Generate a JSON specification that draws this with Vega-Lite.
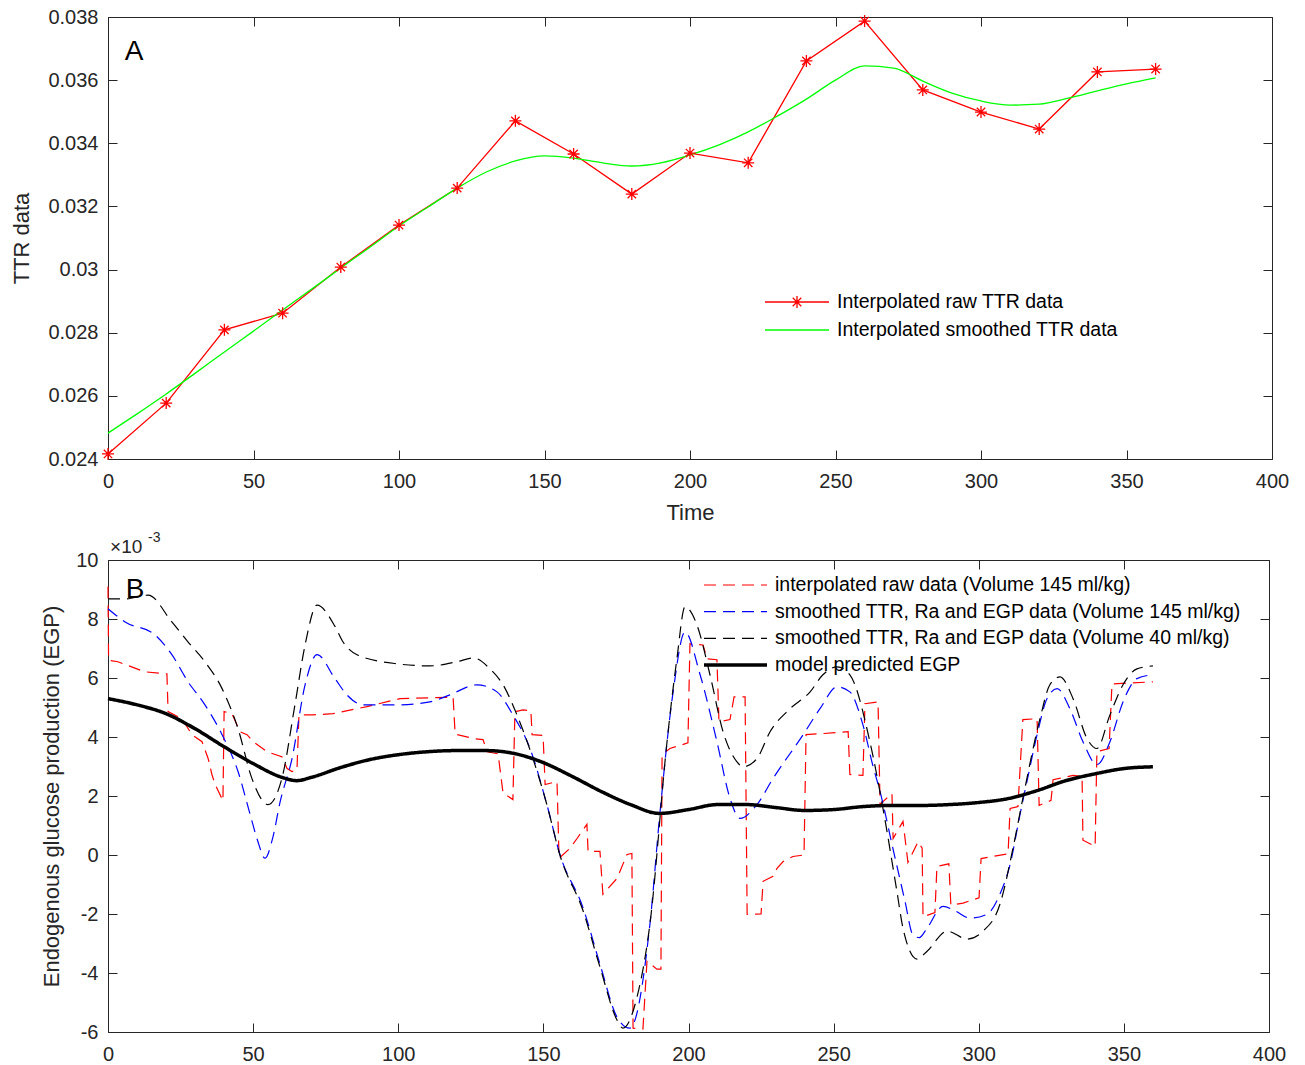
{
  "$schema": "https://vega.github.io/schema/vega-lite/v6.json",
  "padding": {"left": 10, "top": 6, "right": 5, "bottom": 5},
  "spacing": 6,
  "resolve": {"scale": {"color": "independent", "strokeDash": "independent"}, "legend": {"color": "independent", "strokeDash": "independent"}},
  "config": {
    "font": "Liberation Sans",
    "view": {"stroke": "#262626", "strokeWidth": 1},
    "axis": {"grid": false, "domain": false, "tickColor": "#262626", "labelColor": "#262626", "titleColor": "#262626", "labelFontSize": 20, "titleFontSize": 22, "titleFontWeight": "normal", "tickSize": -9, "labelPadding": 19, "labelFlush": false, "labelOverlap": false},
    "axisX": {"labelPadding": 21},
    "legend": {"labelFontSize": 19.5, "labelColor": "#000000", "labelLimit": 700}
  },
  "datasets": {
    "ttr": [
      {"s": "raw", "t": 0, "v": 0.02416}, {"s": "raw", "t": 20, "v": 0.02577}, {"s": "raw", "t": 40, "v": 0.02809}, {"s": "raw", "t": 60, "v": 0.02862}, {"s": "raw", "t": 80, "v": 0.03008}, {"s": "raw", "t": 100, "v": 0.03141}, {"s": "raw", "t": 120, "v": 0.03258}, {"s": "raw", "t": 140, "v": 0.03471}, {"s": "raw", "t": 160, "v": 0.03366}, {"s": "raw", "t": 180, "v": 0.03239}, {"s": "raw", "t": 200, "v": 0.03369}, {"s": "raw", "t": 220, "v": 0.03338}, {"s": "raw", "t": 240, "v": 0.03661}, {"s": "raw", "t": 260, "v": 0.03787}, {"s": "raw", "t": 280, "v": 0.03569}, {"s": "raw", "t": 300, "v": 0.03499}, {"s": "raw", "t": 320, "v": 0.03445}, {"s": "raw", "t": 340, "v": 0.03626}, {"s": "raw", "t": 360, "v": 0.03635},
      {"s": "smooth", "t": 0, "v": 0.02482}, {"s": "smooth", "t": 10, "v": 0.02543}, {"s": "smooth", "t": 20, "v": 0.02606}, {"s": "smooth", "t": 30, "v": 0.02672}, {"s": "smooth", "t": 40, "v": 0.02739}, {"s": "smooth", "t": 50, "v": 0.02805}, {"s": "smooth", "t": 60, "v": 0.02872}, {"s": "smooth", "t": 70, "v": 0.02938}, {"s": "smooth", "t": 80, "v": 0.03005}, {"s": "smooth", "t": 90, "v": 0.03071}, {"s": "smooth", "t": 100, "v": 0.03138}, {"s": "smooth", "t": 110, "v": 0.03198}, {"s": "smooth", "t": 120, "v": 0.03258}, {"s": "smooth", "t": 130, "v": 0.03309}, {"s": "smooth", "t": 140, "v": 0.03344}, {"s": "smooth", "t": 150, "v": 0.0336}, {"s": "smooth", "t": 160, "v": 0.03353}, {"s": "smooth", "t": 170, "v": 0.03338}, {"s": "smooth", "t": 180, "v": 0.03328}, {"s": "smooth", "t": 190, "v": 0.03338}, {"s": "smooth", "t": 200, "v": 0.03363}, {"s": "smooth", "t": 210, "v": 0.03395}, {"s": "smooth", "t": 220, "v": 0.03436}, {"s": "smooth", "t": 230, "v": 0.03486}, {"s": "smooth", "t": 240, "v": 0.0354}, {"s": "smooth", "t": 250, "v": 0.036}, {"s": "smooth", "t": 260, "v": 0.03645}, {"s": "smooth", "t": 270, "v": 0.03638}, {"s": "smooth", "t": 280, "v": 0.03597}, {"s": "smooth", "t": 290, "v": 0.03559}, {"s": "smooth", "t": 300, "v": 0.03534}, {"s": "smooth", "t": 310, "v": 0.03521}, {"s": "smooth", "t": 320, "v": 0.03524}, {"s": "smooth", "t": 330, "v": 0.03543}, {"s": "smooth", "t": 340, "v": 0.03566}, {"s": "smooth", "t": 350, "v": 0.03588}, {"s": "smooth", "t": 360, "v": 0.03607}
    ],
    "egp": [
      {"s": "raw", "t": 0, "v": 9.1}, {"s": "raw", "t": 0.2, "v": 6.6}, {"s": "raw", "t": 3.4, "v": 6.55}, {"s": "raw", "t": 12.7, "v": 6.21}, {"s": "raw", "t": 20.3, "v": 6.14}, {"s": "raw", "t": 20.7, "v": 4.86}, {"s": "raw", "t": 25.5, "v": 4.62}, {"s": "raw", "t": 28.9, "v": 4.08}, {"s": "raw", "t": 32.4, "v": 3.84}, {"s": "raw", "t": 34.5, "v": 3.27}, {"s": "raw", "t": 35.8, "v": 2.73}, {"s": "raw", "t": 36.9, "v": 2.39}, {"s": "raw", "t": 39.6, "v": 1.84}, {"s": "raw", "t": 40, "v": 4.86}, {"s": "raw", "t": 42.7, "v": 4.79}, {"s": "raw", "t": 45.5, "v": 4.18}, {"s": "raw", "t": 47.9, "v": 4.08}, {"s": "raw", "t": 50, "v": 3.84}, {"s": "raw", "t": 54.8, "v": 3.5}, {"s": "raw", "t": 59.9, "v": 3.33}, {"s": "raw", "t": 61.7, "v": 2.93}, {"s": "raw", "t": 63.4, "v": 2.83}, {"s": "raw", "t": 65.1, "v": 2.88}, {"s": "raw", "t": 65.8, "v": 4.75}, {"s": "raw", "t": 70.6, "v": 4.75}, {"s": "raw", "t": 77.5, "v": 4.79}, {"s": "raw", "t": 89.2, "v": 5.03}, {"s": "raw", "t": 100.6, "v": 5.3}, {"s": "raw", "t": 118.9, "v": 5.35}, {"s": "raw", "t": 119.6, "v": 4.1}, {"s": "raw", "t": 125.8, "v": 3.95}, {"s": "raw", "t": 129.2, "v": 3.91}, {"s": "raw", "t": 130.6, "v": 3.5}, {"s": "raw", "t": 134.4, "v": 3.43}, {"s": "raw", "t": 136.1, "v": 2.1}, {"s": "raw", "t": 139.5, "v": 1.88}, {"s": "raw", "t": 140.2, "v": 4.86}, {"s": "raw", "t": 143, "v": 4.92}, {"s": "raw", "t": 145.7, "v": 4.89}, {"s": "raw", "t": 146.1, "v": 4.08}, {"s": "raw", "t": 149.9, "v": 4.05}, {"s": "raw", "t": 150.6, "v": 2.39}, {"s": "raw", "t": 154.7, "v": 2.49}, {"s": "raw", "t": 155.4, "v": -0.11}, {"s": "raw", "t": 159.2, "v": 0.23}, {"s": "raw", "t": 161.6, "v": 0.56}, {"s": "raw", "t": 165, "v": 1.04}, {"s": "raw", "t": 165.4, "v": 0.12}, {"s": "raw", "t": 169.5, "v": 0.12}, {"s": "raw", "t": 170.5, "v": -1.33}, {"s": "raw", "t": 175.4, "v": -0.79}, {"s": "raw", "t": 178.8, "v": 0.02}, {"s": "raw", "t": 180.5, "v": 0.05}, {"s": "raw", "t": 180.9, "v": -5.87}, {"s": "raw", "t": 184.3, "v": -5.9}, {"s": "raw", "t": 185.7, "v": -3.6}, {"s": "raw", "t": 189.1, "v": -3.87}, {"s": "raw", "t": 190.5, "v": -3.87}, {"s": "raw", "t": 190.9, "v": 3.4}, {"s": "raw", "t": 193.6, "v": 3.61}, {"s": "raw", "t": 199.8, "v": 3.8}, {"s": "raw", "t": 200.5, "v": 7.16}, {"s": "raw", "t": 205, "v": 7.12}, {"s": "raw", "t": 206.4, "v": 6.65}, {"s": "raw", "t": 209.8, "v": 6.62}, {"s": "raw", "t": 210.5, "v": 4.52}, {"s": "raw", "t": 214.3, "v": 4.59}, {"s": "raw", "t": 215.7, "v": 5.36}, {"s": "raw", "t": 219.5, "v": 5.36}, {"s": "raw", "t": 220.2, "v": -2.01}, {"s": "raw", "t": 225, "v": -2.0}, {"s": "raw", "t": 225.7, "v": -0.89}, {"s": "raw", "t": 229.1, "v": -0.72}, {"s": "raw", "t": 230.5, "v": -0.45}, {"s": "raw", "t": 232.6, "v": -0.22}, {"s": "raw", "t": 236, "v": -0.05}, {"s": "raw", "t": 239.8, "v": 0}, {"s": "raw", "t": 240.5, "v": 4.08}, {"s": "raw", "t": 245.3, "v": 4.11}, {"s": "raw", "t": 255, "v": 4.18}, {"s": "raw", "t": 255.6, "v": 2.73}, {"s": "raw", "t": 260.1, "v": 2.7}, {"s": "raw", "t": 260.8, "v": 5.13}, {"s": "raw", "t": 265.3, "v": 5.19}, {"s": "raw", "t": 266, "v": 1.71}, {"s": "raw", "t": 267, "v": 1.81}, {"s": "raw", "t": 270.1, "v": 2.08}, {"s": "raw", "t": 270.5, "v": 0.56}, {"s": "raw", "t": 273.9, "v": 1.14}, {"s": "raw", "t": 275.6, "v": -0.25}, {"s": "raw", "t": 279.1, "v": 0.45}, {"s": "raw", "t": 280.5, "v": 0.23}, {"s": "raw", "t": 280.8, "v": -2.1}, {"s": "raw", "t": 284.9, "v": -1.95}, {"s": "raw", "t": 285.6, "v": -0.39}, {"s": "raw", "t": 289.7, "v": -0.3}, {"s": "raw", "t": 290.4, "v": -1.7}, {"s": "raw", "t": 294.6, "v": -1.63}, {"s": "raw", "t": 300.1, "v": -1.45}, {"s": "raw", "t": 300.8, "v": -0.12}, {"s": "raw", "t": 310.1, "v": 0.04}, {"s": "raw", "t": 310.8, "v": 1.58}, {"s": "raw", "t": 313.5, "v": 1.64}, {"s": "raw", "t": 315.2, "v": 4.59}, {"s": "raw", "t": 320.1, "v": 4.62}, {"s": "raw", "t": 320.8, "v": 1.68}, {"s": "raw", "t": 324.9, "v": 1.85}, {"s": "raw", "t": 325.6, "v": 2.55}, {"s": "raw", "t": 332.5, "v": 2.7}, {"s": "raw", "t": 335.6, "v": 2.66}, {"s": "raw", "t": 335.9, "v": 0.5}, {"s": "raw", "t": 340.1, "v": 0.29}, {"s": "raw", "t": 340.7, "v": 3.5}, {"s": "raw", "t": 344.9, "v": 3.61}, {"s": "raw", "t": 345.9, "v": 5.8}, {"s": "raw", "t": 360, "v": 5.87},
      {"s": "s145", "t": 0, "v": 8.35}, {"s": "s145", "t": 5.9, "v": 7.9}, {"s": "s145", "t": 16.2, "v": 7.46}, {"s": "s145", "t": 22, "v": 6.79}, {"s": "s145", "t": 27.6, "v": 5.87}, {"s": "s145", "t": 33.4, "v": 5.09}, {"s": "s145", "t": 39.3, "v": 4.08}, {"s": "s145", "t": 44.8, "v": 2.83}, {"s": "s145", "t": 48.9, "v": 1.4}, {"s": "s145", "t": 51.5, "v": 0.5}, {"s": "s145", "t": 54.1, "v": -0.11}, {"s": "s145", "t": 56.8, "v": 0.6}, {"s": "s145", "t": 59.3, "v": 1.8}, {"s": "s145", "t": 63.4, "v": 3.27}, {"s": "s145", "t": 67.9, "v": 5.77}, {"s": "s145", "t": 72, "v": 6.79}, {"s": "s145", "t": 78.2, "v": 5.98}, {"s": "s145", "t": 82.3, "v": 5.43}, {"s": "s145", "t": 87.9, "v": 5.09}, {"s": "s145", "t": 99.6, "v": 5.09}, {"s": "s145", "t": 110.9, "v": 5.19}, {"s": "s145", "t": 117.8, "v": 5.43}, {"s": "s145", "t": 127.1, "v": 5.77}, {"s": "s145", "t": 134, "v": 5.53}, {"s": "s145", "t": 139.5, "v": 4.75}, {"s": "s145", "t": 145.4, "v": 3.61}, {"s": "s145", "t": 151.2, "v": 1.71}, {"s": "s145", "t": 155.7, "v": 0.02}, {"s": "s145", "t": 163.7, "v": -1.8}, {"s": "s145", "t": 169.5, "v": -3.7}, {"s": "s145", "t": 175.4, "v": -5.5}, {"s": "s145", "t": 179.8, "v": -5.87}, {"s": "s145", "t": 186.7, "v": -2.35}, {"s": "s145", "t": 190.2, "v": 1.47}, {"s": "s145", "t": 194.7, "v": 5.53}, {"s": "s145", "t": 198.8, "v": 7.56}, {"s": "s145", "t": 204, "v": 6.11}, {"s": "s145", "t": 209.8, "v": 3.84}, {"s": "s145", "t": 214.3, "v": 1.92}, {"s": "s145", "t": 217.7, "v": 1.24}, {"s": "s145", "t": 223.6, "v": 1.71}, {"s": "s145", "t": 229.1, "v": 2.59}, {"s": "s145", "t": 239.5, "v": 4.08}, {"s": "s145", "t": 245.3, "v": 4.96}, {"s": "s145", "t": 251.2, "v": 5.7}, {"s": "s145", "t": 255.6, "v": 5.53}, {"s": "s145", "t": 260.1, "v": 4.41}, {"s": "s145", "t": 263.6, "v": 3.0}, {"s": "s145", "t": 266, "v": 2.15}, {"s": "s145", "t": 270.5, "v": 0.19}, {"s": "s145", "t": 274.6, "v": -1.57}, {"s": "s145", "t": 277.3, "v": -2.7}, {"s": "s145", "t": 279.5, "v": -2.8}, {"s": "s145", "t": 282.2, "v": -2.48}, {"s": "s145", "t": 287.7, "v": -1.74}, {"s": "s145", "t": 292, "v": -1.9}, {"s": "s145", "t": 297, "v": -2.14}, {"s": "s145", "t": 302.8, "v": -2.01}, {"s": "s145", "t": 307.3, "v": -1.33}, {"s": "s145", "t": 310.8, "v": -0.32}, {"s": "s145", "t": 314.2, "v": 1.37}, {"s": "s145", "t": 316.6, "v": 2.49}, {"s": "s145", "t": 320.1, "v": 4.08}, {"s": "s145", "t": 323.5, "v": 5.3}, {"s": "s145", "t": 327, "v": 5.64}, {"s": "s145", "t": 331.4, "v": 4.96}, {"s": "s145", "t": 335.9, "v": 3.84}, {"s": "s145", "t": 340.7, "v": 3.06}, {"s": "s145", "t": 345.2, "v": 3.84}, {"s": "s145", "t": 349.7, "v": 5.19}, {"s": "s145", "t": 354.5, "v": 5.98}, {"s": "s145", "t": 360, "v": 6.11},
      {"s": "s40", "t": 0, "v": 8.68}, {"s": "s40", "t": 5.9, "v": 8.68}, {"s": "s40", "t": 13.8, "v": 8.81}, {"s": "s40", "t": 22, "v": 7.9}, {"s": "s40", "t": 27.6, "v": 7.22}, {"s": "s40", "t": 33.4, "v": 6.55}, {"s": "s40", "t": 39.3, "v": 5.64}, {"s": "s40", "t": 44.8, "v": 4.28}, {"s": "s40", "t": 49.6, "v": 2.59}, {"s": "s40", "t": 55.1, "v": 1.71}, {"s": "s40", "t": 59.9, "v": 2.59}, {"s": "s40", "t": 64.4, "v": 5.09}, {"s": "s40", "t": 67.9, "v": 7.12}, {"s": "s40", "t": 72, "v": 8.47}, {"s": "s40", "t": 78.2, "v": 7.75}, {"s": "s40", "t": 81, "v": 7.22}, {"s": "s40", "t": 85.8, "v": 6.79}, {"s": "s40", "t": 99.6, "v": 6.48}, {"s": "s40", "t": 110.9, "v": 6.41}, {"s": "s40", "t": 120.2, "v": 6.55}, {"s": "s40", "t": 125.8, "v": 6.68}, {"s": "s40", "t": 131.6, "v": 6.31}, {"s": "s40", "t": 136.1, "v": 5.77}, {"s": "s40", "t": 140.9, "v": 4.75}, {"s": "s40", "t": 146.4, "v": 3.27}, {"s": "s40", "t": 151.2, "v": 1.71}, {"s": "s40", "t": 155.7, "v": 0}, {"s": "s40", "t": 163.7, "v": -1.9}, {"s": "s40", "t": 169.5, "v": -3.8}, {"s": "s40", "t": 175.4, "v": -5.6}, {"s": "s40", "t": 177.4, "v": -5.87}, {"s": "s40", "t": 182.3, "v": -4.8}, {"s": "s40", "t": 186.7, "v": -2.35}, {"s": "s40", "t": 192.6, "v": 3.84}, {"s": "s40", "t": 196, "v": 6.65}, {"s": "s40", "t": 198.8, "v": 8.41}, {"s": "s40", "t": 202.9, "v": 7.8}, {"s": "s40", "t": 207.4, "v": 6.11}, {"s": "s40", "t": 211.9, "v": 4.18}, {"s": "s40", "t": 216.7, "v": 3.16}, {"s": "s40", "t": 218.8, "v": 2.99}, {"s": "s40", "t": 223.6, "v": 3.27}, {"s": "s40", "t": 228.1, "v": 4.18}, {"s": "s40", "t": 235, "v": 4.96}, {"s": "s40", "t": 241.9, "v": 5.53}, {"s": "s40", "t": 246.3, "v": 6.11}, {"s": "s40", "t": 251.2, "v": 6.38}, {"s": "s40", "t": 255.6, "v": 6.11}, {"s": "s40", "t": 262.5, "v": 3.84}, {"s": "s40", "t": 267, "v": 1.58}, {"s": "s40", "t": 271.8, "v": -1.23}, {"s": "s40", "t": 273.9, "v": -2.48}, {"s": "s40", "t": 278.7, "v": -3.53}, {"s": "s40", "t": 282.2, "v": -3.26}, {"s": "s40", "t": 289.1, "v": -2.58}, {"s": "s40", "t": 296, "v": -2.85}, {"s": "s40", "t": 301.5, "v": -2.58}, {"s": "s40", "t": 307.3, "v": -1.67}, {"s": "s40", "t": 311.8, "v": 0.23}, {"s": "s40", "t": 315.2, "v": 1.92}, {"s": "s40", "t": 321.1, "v": 4.62}, {"s": "s40", "t": 324.5, "v": 5.77}, {"s": "s40", "t": 328, "v": 6.04}, {"s": "s40", "t": 332.5, "v": 5.3}, {"s": "s40", "t": 337.3, "v": 3.95}, {"s": "s40", "t": 340.7, "v": 3.61}, {"s": "s40", "t": 345.2, "v": 4.75}, {"s": "s40", "t": 349.7, "v": 5.77}, {"s": "s40", "t": 354.5, "v": 6.31}, {"s": "s40", "t": 360, "v": 6.41},
      {"s": "model", "t": 0, "v": 5.3}, {"s": "model", "t": 10, "v": 5.09}, {"s": "model", "t": 20, "v": 4.79}, {"s": "model", "t": 30, "v": 4.28}, {"s": "model", "t": 40, "v": 3.67}, {"s": "model", "t": 50, "v": 3.1}, {"s": "model", "t": 60, "v": 2.63}, {"s": "model", "t": 65, "v": 2.52}, {"s": "model", "t": 70, "v": 2.63}, {"s": "model", "t": 80, "v": 2.96}, {"s": "model", "t": 90, "v": 3.23}, {"s": "model", "t": 100, "v": 3.4}, {"s": "model", "t": 110, "v": 3.5}, {"s": "model", "t": 120, "v": 3.54}, {"s": "model", "t": 130, "v": 3.54}, {"s": "model", "t": 140, "v": 3.44}, {"s": "model", "t": 150, "v": 3.13}, {"s": "model", "t": 160, "v": 2.66}, {"s": "model", "t": 170, "v": 2.15}, {"s": "model", "t": 180, "v": 1.71}, {"s": "model", "t": 190, "v": 1.41}, {"s": "model", "t": 200, "v": 1.54}, {"s": "model", "t": 210, "v": 1.71}, {"s": "model", "t": 220, "v": 1.71}, {"s": "model", "t": 230, "v": 1.61}, {"s": "model", "t": 240, "v": 1.51}, {"s": "model", "t": 250, "v": 1.54}, {"s": "model", "t": 260, "v": 1.64}, {"s": "model", "t": 270, "v": 1.68}, {"s": "model", "t": 280, "v": 1.68}, {"s": "model", "t": 290, "v": 1.71}, {"s": "model", "t": 300, "v": 1.78}, {"s": "model", "t": 310, "v": 1.91}, {"s": "model", "t": 320, "v": 2.18}, {"s": "model", "t": 330, "v": 2.52}, {"s": "model", "t": 340, "v": 2.75}, {"s": "model", "t": 350, "v": 2.93}, {"s": "model", "t": 360, "v": 2.99}
    ]
  },
  "vconcat": [
    {
      "width": 1164,
      "height": 442,
      "layer": [
        {
          "layer": [
            {
              "data": {"name": "ttr"},
              "transform": [{"filter": "datum.s === 'raw'"}],
              "mark": {"type": "line", "strokeWidth": 1.3},
              "encoding": {
                "x": {"field": "t", "type": "quantitative", "scale": {"domain": [0, 400], "nice": false}, "axis": {"values": [0, 50, 100, 150, 200, 250, 300, 350, 400], "title": "Time", "titlePadding": 11}},
                "y": {"field": "v", "type": "quantitative", "scale": {"domain": [0.024, 0.038], "nice": false, "zero": false}, "axis": {"values": [0.024, 0.026, 0.028, 0.03, 0.032, 0.034, 0.036, 0.038], "format": ".3~f", "title": "TTR data", "titlePadding": 14}},
                "color": {"field": "s", "type": "nominal", "scale": {"domain": ["raw", "smooth"], "range": ["#ff0000", "#00ff00"]},
                  "legend": {"orient": "none", "legendX": 656, "legendY": 275, "title": null, "symbolType": "stroke", "symbolSize": 4096, "symbolStrokeWidth": 1.3, "clipHeight": 20, "labelOffset": 7, "rowPadding": 8,
                    "labelExpr": "datum.value === 'raw' ? 'Interpolated raw TTR data' : 'Interpolated smoothed TTR data'",
                    "encode": {"symbols": {"update": {"shape": {"signal": "(datum.value === 'raw' ? 'M-1,0L1,0M0,-0.19L0,0.19M-0.19,0L0.19,0M-0.134,-0.134L0.134,0.134M-0.134,0.134L0.134,-0.134' : 'M-1,0L1,0')"}}}}}}
              }
            },
            {
              "data": {"name": "ttr"},
              "transform": [{"filter": "datum.s === 'smooth'"}],
              "mark": {"type": "line", "strokeWidth": 1.3, "interpolate": "monotone"},
              "encoding": {
                "x": {"field": "t", "type": "quantitative"},
                "y": {"field": "v", "type": "quantitative"},
                "color": {"field": "s", "type": "nominal"}
              }
            },
            {
              "data": {"name": "ttr"},
              "transform": [{"filter": "datum.s === 'raw'"}],
              "mark": {"type": "point", "shape": "M-1,0L1,0M0,-1L0,1M-0.7,-0.7L0.7,0.7M-0.7,0.7L0.7,-0.7", "filled": false, "size": 144, "strokeWidth": 1.3, "color": "#ff0000", "opacity": 1},
              "encoding": {
                "x": {"field": "t", "type": "quantitative"},
                "y": {"field": "v", "type": "quantitative"}
              }
            },
            {
              "data": {"values": [{"t": 9, "v": 0.0369, "label": "A"}]},
              "mark": {"type": "text", "fontSize": 28, "align": "center", "baseline": "middle", "color": "#000000"},
              "encoding": {
                "x": {"field": "t", "type": "quantitative"},
                "y": {"field": "v", "type": "quantitative"},
                "text": {"field": "label"}
              }
            }
          ]
        },
        {
          "data": {"name": "ttr"},
          "mark": {"type": "point", "opacity": 0},
          "encoding": {
            "x": {"field": "t", "type": "quantitative", "scale": {"domain": [0, 400], "nice": false}, "axis": {"orient": "top", "labels": false, "title": null, "values": [0, 50, 100, 150, 200, 250, 300, 350, 400]}},
            "y": {"field": "v", "type": "quantitative", "scale": {"domain": [0.024, 0.038], "nice": false, "zero": false}, "axis": {"orient": "right", "labels": false, "title": null, "values": [0.024, 0.026, 0.028, 0.03, 0.032, 0.034, 0.036, 0.038]}}
          }
        }
      ],
      "resolve": {"scale": {"x": "independent", "y": "independent"}}
    },
    {
      "width": 1161,
      "height": 472,
      "layer": [
        {
          "layer": [
            {
              "data": {"name": "egp"},
              "transform": [{"filter": "datum.s === 'raw'"}],
              "mark": {"type": "line", "strokeWidth": 1.2},
              "encoding": {
                "x": {"field": "t", "type": "quantitative", "scale": {"domain": [0, 400], "nice": false}, "axis": {"values": [0, 50, 100, 150, 200, 250, 300, 350, 400], "title": null}},
                "y": {"field": "v", "type": "quantitative", "scale": {"domain": [-6, 10], "nice": false, "zero": false}, "axis": {"values": [-6, -4, -2, 0, 2, 4, 6, 8, 10], "labelExpr": "'' + datum.value", "title": "Endogenous glucose production (EGP)", "titlePadding": 12}},
                "color": {"field": "s", "type": "nominal", "scale": {"domain": ["raw", "s145", "s40", "model"], "range": ["#ff0000", "#0000ff", "#000000", "#000000"]},
                  "legend": {"orient": "none", "legendX": 595, "legendY": 15, "title": null, "symbolType": "stroke", "symbolSize": 3969, "clipHeight": 20, "labelOffset": 7, "rowPadding": 6.7,
                    "labelExpr": "datum.value === 'raw' ? 'interpolated raw data (Volume 145 ml/kg)' : datum.value === 's145' ? 'smoothed TTR, Ra and EGP data (Volume 145 ml/kg)' : datum.value === 's40' ? 'smoothed TTR, Ra and EGP data (Volume 40 ml/kg)' : 'model predicted EGP'",
                    "encode": {"symbols": {"update": {"strokeWidth": {"signal": "(datum.value === 'model' ? 3.5 : 1.2)"}}}}}},
                "strokeDash": {"field": "s", "type": "nominal", "scale": {"domain": ["raw", "s145", "s40", "model"], "range": [[12, 7], [12, 7], [12, 7], [1, 0]]}}
              }
            },
            {
              "data": {"name": "egp"},
              "transform": [{"filter": "datum.s === 's145' || datum.s === 's40'"}],
              "mark": {"type": "line", "interpolate": "monotone", "strokeWidth": 1.2},
              "encoding": {
                "x": {"field": "t", "type": "quantitative"},
                "y": {"field": "v", "type": "quantitative"},
                "color": {"field": "s", "type": "nominal"},
                "strokeDash": {"field": "s", "type": "nominal"}
              }
            },
            {
              "data": {"name": "egp"},
              "transform": [{"filter": "datum.s === 'model'"}],
              "mark": {"type": "line", "interpolate": "monotone", "strokeWidth": 3.5},
              "encoding": {
                "x": {"field": "t", "type": "quantitative"},
                "y": {"field": "v", "type": "quantitative"},
                "color": {"field": "s", "type": "nominal"},
                "strokeDash": {"field": "s", "type": "nominal"}
              }
            },
            {
              "data": {"values": [{"t": 9.3, "v": 8.98, "label": "B"}]},
              "mark": {"type": "text", "fontSize": 28, "align": "center", "baseline": "middle", "color": "#000000"},
              "encoding": {
                "x": {"field": "t", "type": "quantitative"},
                "y": {"field": "v", "type": "quantitative"},
                "text": {"field": "label"}
              }
            },
            {
              "data": {"values": [{"t": 0.7, "v": 10.45, "label": "×10"}]},
              "mark": {"type": "text", "fontSize": 19, "align": "left", "baseline": "middle", "color": "#262626"},
              "encoding": {
                "x": {"field": "t", "type": "quantitative"},
                "y": {"field": "v", "type": "quantitative"},
                "text": {"field": "label"}
              }
            },
            {
              "data": {"values": [{"t": 13.8, "v": 10.75, "label": "-3"}]},
              "mark": {"type": "text", "fontSize": 14, "align": "left", "baseline": "middle", "color": "#262626"},
              "encoding": {
                "x": {"field": "t", "type": "quantitative"},
                "y": {"field": "v", "type": "quantitative"},
                "text": {"field": "label"}
              }
            }
          ]
        },
        {
          "data": {"name": "egp"},
          "mark": {"type": "point", "opacity": 0},
          "encoding": {
            "x": {"field": "t", "type": "quantitative", "scale": {"domain": [0, 400], "nice": false}, "axis": {"orient": "top", "labels": false, "title": null, "values": [0, 50, 100, 150, 200, 250, 300, 350, 400]}},
            "y": {"field": "v", "type": "quantitative", "scale": {"domain": [-6, 10], "nice": false, "zero": false}, "axis": {"orient": "right", "labels": false, "title": null, "values": [-6, -4, -2, 0, 2, 4, 6, 8, 10]}}
          }
        }
      ],
      "resolve": {"scale": {"x": "independent", "y": "independent"}}
    }
  ]
}
